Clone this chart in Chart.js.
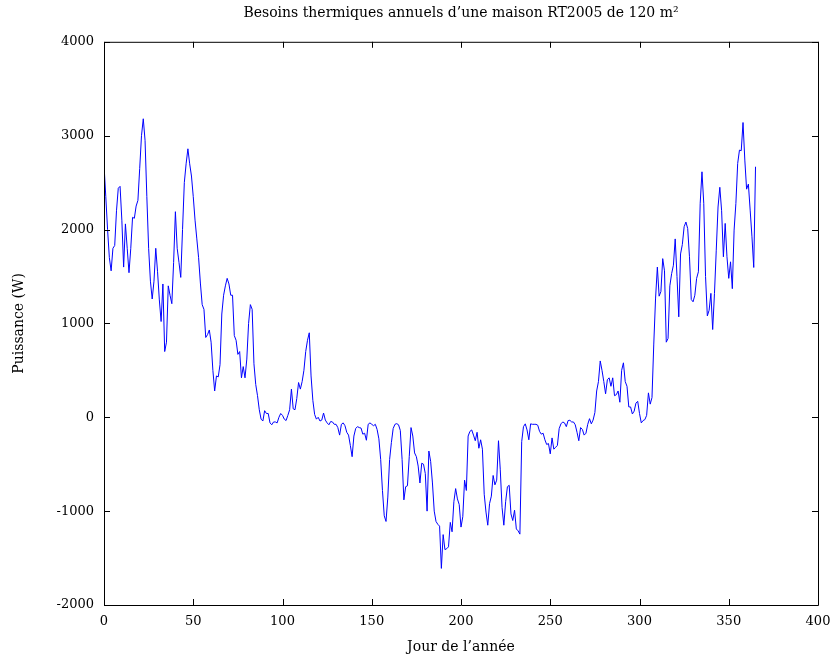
<!DOCTYPE html>
<html>
<head>
<meta charset="utf-8">
<script src="https://cdn.jsdelivr.net/npm/chart.js@4/dist/chart.umd.min.js"></script>
<style>
  html, body { margin: 0; padding: 0; background: #fff; }
  #wrap { width: 832px; height: 659px; }
</style>
</head>
<body>
<div id="wrap"><canvas id="besoinsChart" width="832" height="659"></canvas></div>
<script>
// puissance moyenne par jour (W), jours 0 a 365
const puissance = [
  2690, 2350, 2000, 1700, 1560, 1800, 1830, 2200, 2440, 2460,
  2100, 1600, 2060, 1800, 1540, 1800, 2130, 2120, 2250, 2310,
  2650, 3000, 3180, 2950, 2350, 1800, 1450, 1260, 1450, 1800,
  1550, 1250, 1020, 1420, 700, 800, 1400, 1300, 1210, 1650,
  2190, 1800, 1650, 1490, 2000, 2500, 2700, 2860, 2700, 2570,
  2350, 2100, 1900, 1700, 1430, 1200, 1150, 850, 880, 930,
  800, 500, 280, 440, 430, 560, 1100, 1300, 1400, 1480,
  1420, 1300, 1300, 870, 820, 670, 700, 420, 540, 420,
  620, 1000, 1200, 1150, 570, 350, 230, 80, -20, -40,
  70, 40, 40, -60, -80, -50, -50, -60, 0, 40,
  20, -20, -35, 20, 80, 300, 90, 80, 200, 370,
  300, 380, 500, 700, 820, 900, 440, 180, 30, -20,
  0, -40, -30, 45, -30, -60, -80, -45, -50, -75,
  -75, -110, -190, -75, -60, -90, -160, -190, -300, -420,
  -200, -120, -100, -110, -115, -180, -170, -245, -75, -60,
  -75, -90, -75, -130, -230, -450, -780, -1050, -1110, -850,
  -450, -270, -120, -75, -68, -80, -140, -450, -880, -740,
  -730, -420, -110, -200, -380, -420, -520, -700, -490, -500,
  -600, -1000, -360, -470, -700, -1000, -1110, -1140, -1160, -1610,
  -1250, -1410, -1400, -1380, -1120, -1220, -900, -760, -870, -930,
  -1170, -1060, -670, -780, -200, -150, -135, -190, -250, -160,
  -330, -240, -340, -820, -1010, -1150, -920, -840, -620, -720,
  -670, -250, -560, -960, -1150, -900, -740, -725, -1030, -1100,
  -990, -1190, -1210, -1245, -260, -100, -70, -135, -240, -70,
  -75, -75, -75, -85, -150, -180, -170, -240, -290, -280,
  -390, -220, -340, -320, -300, -120, -70, -50, -60, -100,
  -35, -32, -50, -50, -80, -160, -250, -110, -130, -190,
  -170, -75, -15, -70, -30, 50, 280, 380, 600, 500,
  380, 250, 400, 420, 330, 420, 230, 240, 280, 160,
  500, 580, 380, 330, 110, 110, 35, 65, 150, 170,
  40, -60, -35, -25, 20, 260, 140, 210, 780, 1270,
  1600, 1290, 1340, 1690, 1560, 800, 840, 1400, 1530, 1620,
  1900, 1500, 1070, 1740, 1840, 2030, 2080, 2010, 1710, 1255,
  1230, 1300, 1480, 1550, 2280, 2615, 2280, 1500, 1080, 1140,
  1320, 935, 1320, 1780, 2240, 2450, 2200, 1710, 2065, 1710,
  1480, 1656, 1370, 1994, 2278, 2704, 2846, 2840, 3140, 2740,
  2430, 2484, 2207, 1922, 1596, 2669
];
const jours = puissance.map((v, i) => i);

const xTicks = [0, 50, 100, 150, 200, 250, 300, 350, 400];
const yTicks = [-2000, -1000, 0, 1000, 2000, 3000, 4000];

const police = 'DejaVu Serif';

// cadre + graduations vers l'interieur, facon gnuplot
const cadre = {
  id: 'cadre',
  afterDraw(chart) {
    const c = chart.ctx;
    const a = chart.chartArea;
    const sx = chart.scales.x, sy = chart.scales.y;
    c.save();
    c.lineWidth = 1;
    c.strokeStyle = '#000';
    c.beginPath();
    c.moveTo(a.left + 0.5, a.top + 0.5);
    c.lineTo(a.left + 0.5, a.bottom + 0.5);
    c.lineTo(a.right + 0.5, a.bottom + 0.5);
    c.lineTo(a.right + 0.5, a.top + 0.5);
    c.closePath();
    c.stroke();
    c.beginPath();
    xTicks.forEach(t => {
      const px = Math.round(sx.getPixelForValue(t)) + 0.5;
      c.moveTo(px, a.bottom); c.lineTo(px, a.bottom - 6);
      c.moveTo(px, a.top); c.lineTo(px, a.top + 6);
    });
    yTicks.forEach(t => {
      const py = Math.round(sy.getPixelForValue(t)) + 0.5;
      c.moveTo(a.left, py); c.lineTo(a.left + 6, py);
      c.moveTo(a.right, py); c.lineTo(a.right - 6, py);
    });
    c.stroke();
    c.restore();
  }
};

const ctx = document.getElementById('besoinsChart').getContext('2d');
const chart = new Chart(ctx, {
  type: 'line',
  data: {
    datasets: [{
      data: jours.map((j, i) => ({ x: j, y: puissance[i] })),
      borderColor: '#0000ff',
      borderWidth: 1,
      pointRadius: 0,
      tension: 0,
      fill: false
    }]
  },
  options: {
    responsive: false,
    animation: false,
    layout: { padding: { left: 0, right: 14, top: 0, bottom: 0 } },
    plugins: {
      legend: { display: false },
      tooltip: { enabled: false },
      title: {
        display: true,
        fullSize: false,
        text: 'Besoins thermiques annuels d\u2019une maison RT2005 de 120 m\u00b2',
        color: '#000',
        font: { family: police, size: 14, weight: 'normal' },
        padding: { top: 5, bottom: 20 }
      }
    },
    scales: {
      x: {
        type: 'linear',
        min: 0,
        max: 400,
        afterFit(s) { s.height = 54; s.paddingLeft = 0; s.paddingRight = 0; },
        afterBuildTicks(s) { s.ticks = xTicks.map(v => ({ value: v })); },
        grid: { display: false, drawTicks: false },
        border: { display: false },
        ticks: {
          color: '#000', padding: 9, maxRotation: 0,
          font: { family: police, size: 13 },
          callback: v => String(v)
        },
        title: {
          display: true,
          text: 'Jour de l\u2019ann\u00e9e',
          color: '#000',
          font: { family: police, size: 14 },
          padding: { top: 0, bottom: 3 }
        }
      },
      y: {
        min: -2000,
        max: 4000,
        afterFit(s) { s.width = 104; s.paddingTop = 0; s.paddingBottom = 0; },
        afterBuildTicks(s) { s.ticks = yTicks.map(v => ({ value: v })); },
        grid: { display: false, drawTicks: false },
        border: { display: false },
        ticks: {
          color: '#000', padding: 10,
          font: { family: police, size: 13 },
          callback: v => String(v)
        },
        title: {
          display: true,
          text: 'Puissance (W)',
          color: '#000',
          font: { family: police, size: 14 },
          padding: { top: 11, bottom: 0 }
        }
      }
    }
  },
  plugins: [cadre]
});
</script>
</body>
</html>
